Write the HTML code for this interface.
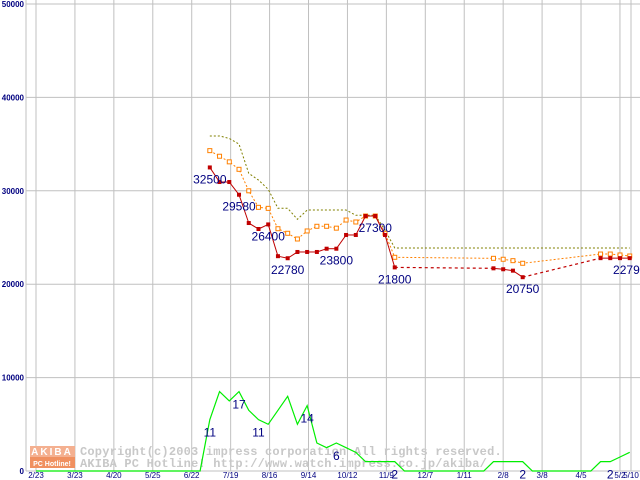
<!DOCTYPE html>
<html><head><meta charset="utf-8"><style>
body{margin:0;background:#fff;}
svg{display:block;font-family:"Liberation Sans",sans-serif;}
</style></head><body>
<svg id="chart" width="640" height="480" viewBox="0 0 640 480" xmlns="http://www.w3.org/2000/svg">
<g id="grid"></g>
<g id="wm">
  <rect x="30" y="446" width="45" height="11" fill="#f4b090"/>
  <rect x="30" y="457" width="45" height="11" fill="#f09060"/>
  <text x="52" y="455" font-size="10" font-weight="bold" fill="#fff" text-anchor="middle" letter-spacing="2">AKIBA</text>
  <text x="52" y="466" font-size="7" font-weight="bold" fill="#fff" text-anchor="middle">PC Hotline!</text>
  <text x="80" y="455" font-family="Liberation Mono, monospace" font-size="12" font-weight="bold" fill="#c8c8c8" letter-spacing="0.2">Copyright(c)2003 impress corporation All rights reserved.</text>
  <text x="80" y="467" font-family="Liberation Mono, monospace" font-size="12" font-weight="bold" fill="#c8c8c8" letter-spacing="0.2">AKIBA PC Hotline!  http://www.watch.impress.co.jp/akiba/</text>
</g>
<g id="series"></g>
<g id="labels"></g>
</svg>
<script>
const days = [125,132,139,146,153,160,167,174,181,188,195,202,209,216,223,230,237,244,251,258,329,336,343,350,406,413,420,427];
const olive = [35870,35870,35600,35000,31870,31150,30160,28130,28130,26950,27940,27940,27940,27940,27940,27380,27380,27380,25800,23880,23880,23880,23880,23880,23880,23880,23880,23880];
const orange = [34300,33700,33100,32300,30000,28230,28120,25940,25450,24840,25700,26200,26200,26000,26870,26660,27300,27300,25450,22880,22770,22670,22520,22240,23230,23230,23130,23020];
const red = [32500,30940,30940,29580,26550,25910,26400,23000,22780,23450,23450,23450,23800,23800,25270,25270,27300,27300,25270,21800,21700,21600,21450,20750,22790,22790,22790,22790];
const redLabelIdx = [0,3,6,8,13,17,19,23,27];
const redLabelText = ["32500","29580","26400","22780","23800","27300","21800","20750","22790"];
const cntDays = [0,118,125,132,139,146,153,160,167,174,181,188,195,202,209,216,223,230,237,244,251,258,265,322,329,336,343,350,357,399,406,413,420,427];
const cnt = [0,0,11,17,15,17,13,11,10,13,16,10,14,6,5,6,5,4,2,2,2,2,0,0,2,2,2,2,0,0,2,2,3,4];
const cntLabelDays = [125,146,160,195,216,258,350,413];
const cntLabelText = ["11","17","11","14","6","2","2","2"];
const yTicks = [0,10000,20000,30000,40000,50000];
const xTickLabels = ["2/23","3/23","4/20","5/25","6/22","7/19","8/16","9/14","10/12","11/9","12/7","1/11","2/8","3/8","4/5","5/2"];

const NS="http://www.w3.org/2000/svg";
const X = d => 36 + d*1.3905;
const Y = v => 471 - v*0.00934;
const YC = c => 471 - c*4.67;
function mk(tag, attrs, parent){const e=document.createElementNS(NS,tag);for(const k in attrs)e.setAttribute(k,attrs[k]);parent.appendChild(e);return e;}
const grid=document.getElementById('grid'), ser=document.getElementById('series'), lab=document.getElementById('labels');

yTicks.forEach(v=>{
  const l=mk('line',{x1:26,x2:640,y1:Y(v),y2:Y(v),stroke:'#c0c0c0','stroke-width':1},grid);
  
  
  const t=mk('text',{x:24,y:Y(v)+3,'font-size':8,'font-weight':'bold',fill:'#000080','text-anchor':'end'},grid);
  t.textContent=String(v);
  
  
});
const vl=mk('line',{x1:26,x2:26,y1:0,y2:471,stroke:'#c0c0c0'},grid);


xTickLabels.forEach((s,i)=>{
  const x=36+i*38.93;
  const l=mk('line',{x1:x,x2:x,y1:0,y2:471,stroke:'#c0c0c0'},grid);
  
  
  const t=mk('text',{x:x,y:478,'font-size':8,fill:'#000080','text-anchor':'middle'},grid);
  t.textContent=s;
  
  
});
const ll=mk('line',{x1:631,x2:631,y1:0,y2:471,stroke:'#c0c0c0'},grid);


const lt=mk('text',{x:631,y:478,'font-size':8,fill:'#000080','text-anchor':'middle'},grid);
lt.textContent='5/10';



const op=mk('polyline',{points:days.map((d,i)=>X(d)+','+Y(olive[i])).join(' '),fill:'none',stroke:'#808000','stroke-width':1,'stroke-dasharray':'2,2'},ser);


const orp=mk('polyline',{points:days.map((d,i)=>X(d)+','+Y(orange[i])).join(' '),fill:'none',stroke:'#ff8000','stroke-width':1,'stroke-dasharray':'2,2'},ser);


days.forEach((d,i)=>{
  const r=mk('rect',{x:X(d)-2,y:Y(orange[i])-2,width:4,height:4,fill:'#fff',stroke:'#ff8000','stroke-width':1},ser);
  
  
});
for(let i=1;i<days.length;i++){
  const gap=days[i]-days[i-1]>7;
  const s=mk('line',{x1:X(days[i-1]),y1:Y(red[i-1]),x2:X(days[i]),y2:Y(red[i]),stroke:'#c00000','stroke-width':gap?1.2:1},ser);
  if(gap)s.setAttribute('stroke-dasharray','3,3');
  
  
}
days.forEach((d,i)=>{
  const r=mk('rect',{x:X(d)-2,y:Y(red[i])-2,width:4,height:4,fill:'#c00000'},ser);
  
  
});
const cp=mk('polyline',{points:cntDays.map((d,i)=>X(d)+','+YC(cnt[i])).join(' '),fill:'none',stroke:'#00ee00','stroke-width':1.2},ser);



redLabelIdx.forEach((idx,k)=>{
  const t=mk('text',{x:X(days[idx]),y:Y(red[idx])+16,'font-size':12,fill:'#000080','text-anchor':'middle'},lab);
  t.textContent=redLabelText[k];
  
  
});
cntLabelDays.forEach((d,k)=>{
  const i=cntDays.indexOf(d);
  const t=mk('text',{x:X(d),y:YC(cnt[i])+17,'font-size':12,fill:'#000080','text-anchor':'middle'},lab);
  t.textContent=cntLabelText[k];
  
  
});
</script>
</body></html>
